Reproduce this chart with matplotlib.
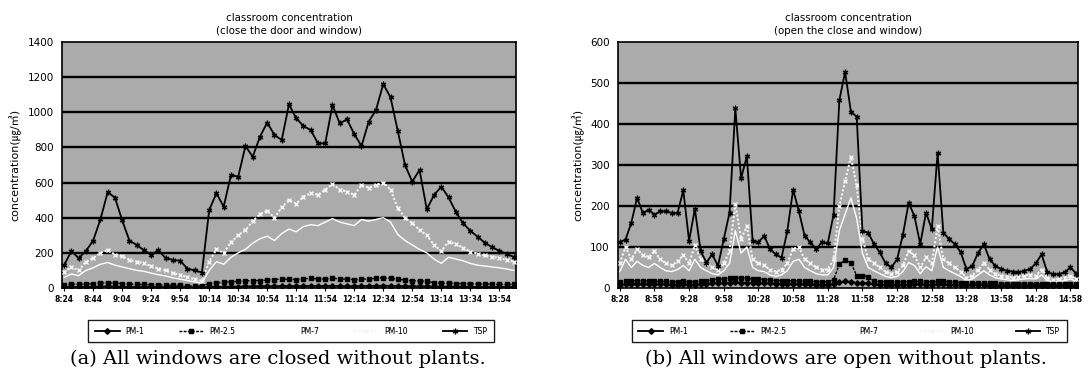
import numpy as np
import matplotlib.pyplot as plt

# ---- (a) windows closed ----
a_labels = ['8:24', '8:44', '9:04', '9:24', '9:54', '10:14', '10:34', '10:54',
            '11:14', '11:54', '12:14', '12:34', '12:54', '13:14', '13:34', '13:54']
a_tsp = [130, 210, 170, 210, 270, 390, 545, 515, 385, 270, 245, 215, 190, 215, 170, 160, 155, 110, 100, 88,
         444, 539, 463, 643, 633, 808, 747, 861, 941, 871, 842, 1045, 966, 922, 899, 823, 823, 1041, 937,
         960, 876, 808, 947, 1013, 1161, 1085, 895, 700, 605, 672, 448, 529, 577, 516, 434, 368, 326, 292,
         258, 232, 212, 195, 176]
a_pm10 = [90, 120, 100, 150, 170, 200, 215, 190, 180, 160, 150, 140, 125, 110, 100, 85, 75, 60, 50, 40,
          150, 220, 200, 260, 300, 330, 380, 420, 440, 400, 460, 500, 480, 520, 540, 530, 560, 590, 560,
          548, 530, 586, 570, 586, 600, 560, 455, 400, 369, 330, 300, 245, 210, 264, 250, 230, 207, 195,
          185, 178, 170, 160, 150]
a_pm7 = [60, 80, 70, 100, 115, 135, 145, 130, 120, 110, 100, 95, 85, 75, 68, 58, 50, 42, 35, 28,
         100, 150, 135, 175, 200, 220, 255, 280, 295, 270, 310, 335, 320, 350, 360, 355, 375, 395, 375,
         365, 355, 390, 380, 390, 400, 375, 305, 270, 245, 220, 200, 165, 140, 175, 165, 155, 140, 130,
         125, 120, 115, 108, 100]
a_pm25 = [18, 20, 22, 20, 25, 28, 30, 28, 25, 22, 20, 20, 18, 18, 16, 15, 15, 12, 12, 12,
          25, 30, 32, 35, 38, 40, 42, 42, 45, 48, 50, 50, 48, 52, 55, 52, 50, 55, 52,
          50, 48, 50, 52, 55, 58, 55, 50, 45, 42, 40, 38, 30, 28, 28, 25, 25, 25, 22,
          22, 22, 20, 20, 20]
a_pm1 = [5, 6, 5, 6, 7, 8, 9, 8, 7, 6, 6, 6, 5, 5, 5, 5, 5, 4, 4, 4,
         6, 7, 7, 8, 8, 9, 9, 10, 10, 10, 11, 11, 10, 11, 12, 11, 11, 12, 11,
         11, 10, 11, 12, 12, 13, 12, 11, 10, 10, 9, 9, 8, 8, 8, 7, 7, 7, 6,
         6, 6, 6, 6, 6]

# ---- (b) windows open ----
b_labels = ['8:28', '8:58', '9:28', '9:58', '10:28', '10:58', '11:28', '11:58',
            '12:28', '12:58', '13:28', '13:58', '14:28', '14:58']
b_tsp = [112, 118, 159, 220, 183, 191, 179, 187, 187, 183, 183, 238, 115, 193, 90, 62, 82, 54, 119, 184,
         438, 268, 321, 115, 112, 127, 95, 82, 74, 139, 240, 187, 127, 111, 95, 112, 109, 179, 458, 527,
         430, 418, 139, 135, 107, 87, 60, 50, 70, 130, 208, 175, 107, 184, 143, 329, 135, 119, 107, 87,
         46, 54, 85, 107, 70, 54, 46, 42, 40, 38, 42, 46, 60, 82, 38, 34, 34, 38, 50, 35]
b_pm10 = [60, 100, 70, 95, 80, 75, 90, 70, 60, 55, 65, 80, 60, 105, 70, 60, 50, 45, 60, 90,
          205, 120, 150, 70, 60, 55, 45, 40, 45, 60, 95, 100, 70, 60, 50, 45, 45, 70, 200, 260,
          320, 250, 120, 70, 60, 50, 40, 35, 40, 55, 90, 80, 50, 75, 60, 150, 70, 60, 50, 40,
          25, 30, 45, 60, 45, 35, 30, 28, 25, 28, 30, 32, 30, 45, 25, 20, 22, 25, 30, 22]
b_pm7 = [40, 70, 50, 65, 55, 50, 60, 50, 42, 40, 45, 55, 42, 70, 50, 42, 35, 32, 42, 60,
         140, 85, 100, 50, 42, 40, 32, 28, 32, 42, 65, 70, 50, 42, 35, 32, 32, 50, 140, 180,
         220, 170, 85, 50, 42, 35, 28, 25, 28, 40, 62, 55, 35, 52, 42, 100, 50, 42, 35, 28,
         18, 22, 32, 42, 32, 25, 22, 20, 18, 20, 22, 23, 22, 32, 18, 15, 16, 18, 22, 16]
b_pm25 = [15, 16, 18, 18, 17, 17, 16, 16, 16, 15, 15, 16, 15, 15, 16, 18, 20, 22, 22, 24,
          25, 24, 24, 22, 22, 20, 20, 18, 18, 18, 17, 17, 16, 16, 15, 15, 15, 20, 58, 68,
          62, 30, 30, 28, 16, 15, 15, 14, 14, 15, 15, 16, 16, 15, 15, 16, 16, 15, 14, 13,
          12, 12, 12, 12, 11, 11, 10, 10, 10, 10, 10, 10, 10, 10, 10, 10, 10, 10, 10, 10]
b_pm1 = [8, 9, 9, 10, 9, 9, 9, 9, 9, 8, 8, 9, 8, 8, 9, 10, 11, 12, 12, 13,
         14, 13, 13, 12, 12, 11, 11, 10, 10, 10, 9, 9, 9, 9, 8, 8, 8, 10, 14, 16,
         15, 12, 12, 11, 9, 8, 8, 8, 8, 8, 8, 9, 9, 8, 8, 9, 9, 8, 8, 7,
         7, 7, 7, 7, 6, 6, 6, 6, 6, 6, 6, 6, 6, 6, 6, 6, 6, 6, 6, 6]

series_names = ['PM-1', 'PM-2.5', 'PM-7', 'PM-10', 'TSP']


def draw(ax, pm1, pm25, pm7, pm10, tsp, labels, step, ymax, ystep, title):
    x = np.arange(len(tsp))
    ax.set_facecolor('#ababab')
    for yv in range(ystep, ymax, ystep):
        ax.axhline(yv, color='black', lw=1.7, zorder=1)
    h7, = ax.plot(x, pm7, color='white', lw=1.0, zorder=2)
    h10, = ax.plot(x, pm10, color='#f4f4f4', lw=1.5, ls=(0, (1, 1)),
                   marker='x', ms=3.5, mew=1.0, zorder=3)
    h25, = ax.plot(x, pm25, color='black', lw=1.0, ls=(0, (2, 1)),
                   marker='s', ms=3, zorder=4)
    h1, = ax.plot(x, pm1, color='black', lw=1.3, marker='D', ms=2.8, zorder=5)
    ht, = ax.plot(x, tsp, color='black', lw=1.3, marker=(6, 2, 0), ms=4,
                  mew=0.9, zorder=6)
    ax.set_xlim(-0.3, len(tsp) - 0.7)
    ax.set_ylim(0, ymax)
    ax.set_yticks(range(0, ymax + 1, ystep))
    ax.set_xticks(range(0, step * len(labels), step))
    ax.set_xticklabels(labels, fontsize=5.5, fontweight='bold')
    ax.tick_params(axis='x', length=2, pad=3)
    ax.tick_params(axis='y', length=0, labelsize=7.5, pad=6)
    for s in ax.spines.values():
        s.set_color('black')
        s.set_linewidth(1.2)
    ax.set_title(title, fontsize=7.4, linespacing=1.3, pad=6)
    ax.set_ylabel('concentration(㎍/㎥)', fontsize=8,
                  family=['DejaVu Sans', 'Noto Sans CJK KR'], labelpad=4)
    return [h1, h25, h7, h10, ht]


fig = plt.figure(figsize=(10.89, 3.73), dpi=100)
ax1 = fig.add_axes([0.0569, 0.2279, 0.4169, 0.6595])
ax2 = fig.add_axes([0.5675, 0.2279, 0.4224, 0.6595])

hs = draw(ax1, a_pm1, a_pm25, a_pm7, a_pm10, a_tsp, a_labels, 4, 1400, 200,
          'classroom concentration\n(close the door and window)')
draw(ax2, b_pm1, b_pm25, b_pm7, b_pm10, b_tsp, b_labels, 6, 600, 100,
     'classroom concentration\n(open the close and window)')

for bbox in [(0.081, 0.082, 0.373, 0.074), (0.580, 0.082, 0.400, 0.074)]:
    leg = fig.legend(hs, series_names, loc='lower left', bbox_to_anchor=bbox,
                     mode='expand', ncol=5, fontsize=5.5, frameon=True,
                     fancybox=False, edgecolor='black', handlelength=3.2,
                     borderaxespad=0, borderpad=0.9)
    leg.get_frame().set_linewidth(0.9)
    fig.add_artist(leg)

fig.text(0.255, 0.038, '(a) All windows are closed without plants.',
         ha='center', va='center', fontsize=14, family='DejaVu Serif')
fig.text(0.777, 0.038, '(b) All windows are open without plants.',
         ha='center', va='center', fontsize=14, family='DejaVu Serif')

fig.savefig('out.png', dpi=100)
